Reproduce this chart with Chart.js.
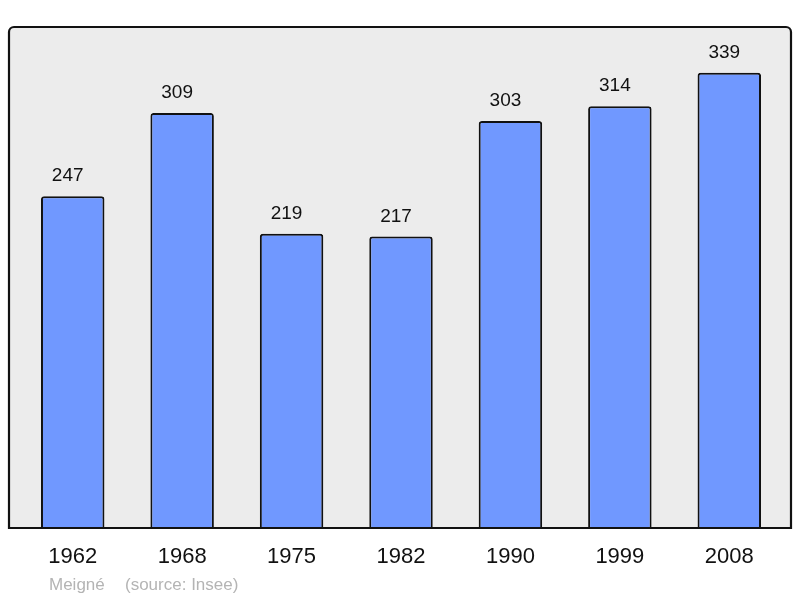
<!DOCTYPE html>
<html>
<head>
<meta charset="utf-8">
<script src="https://cdn.jsdelivr.net/npm/chart.js@4/dist/chart.umd.min.js"></script>
<style>
  html, body { margin: 0; padding: 0; background: #fff; }
  #wrap { width: 800px; height: 598px; }
</style>
</head>
<body>
<div id="wrap"><canvas id="popChart"></canvas></div>
<script>
const years = ['1962', '1968', '1975', '1982', '1990', '1999', '2008'];
const population = [247, 309, 219, 217, 303, 314, 339];
const placeName = 'Meigné';
const sourceText = '(source: Insee)';

// grey box with border + labels
const frame = {
    id: 'frame',
    beforeDraw(chart) {
        const c = chart.ctx;
        const a = chart.chartArea;
        c.save();
        c.beginPath();
        c.roundRect(9, 27, 782, a.bottom - 27, [5, 5, 0, 0]);
        c.fillStyle = '#ececec';
        c.fill();
        c.restore();
    },
    afterDatasetsDraw(chart) {
        const c = chart.ctx;
        const a = chart.chartArea;
        const meta = chart.getDatasetMeta(0);
        const xs = chart.scales.x;
        c.save();
        c.beginPath();
        c.roundRect(9, 27, 782, a.bottom - 27, [5, 5, 0, 0]);
        c.lineWidth = 2.2;
        c.strokeStyle = '#111';
        c.stroke();
        c.fillStyle = '#111';
        c.textAlign = 'center';
        c.font = '19px "Liberation Sans", Arial, sans-serif';
        c.textBaseline = 'alphabetic';
        meta.data.forEach((bar, i) => {
            c.fillText(String(population[i]), bar.x - 5, bar.y - 15);
        });
        c.font = '22px "Liberation Sans", Arial, sans-serif';
        c.textBaseline = 'middle';
        years.forEach((y, i) => {
            c.fillText(y, xs.getPixelForValue(i), 557);
        });
        c.fillStyle = '#b4b4b4';
        c.font = '17px "Liberation Sans", Arial, sans-serif';
        c.textAlign = 'left';
        c.fillText(placeName, 49, 585);
        c.fillText(sourceText, 125, 585);
        c.restore();
    }
};

new Chart(document.getElementById('popChart'), {
    type: 'bar',
    data: {
        labels: years,
        datasets: [{
            data: population,
            backgroundColor: '#7098ff',
            borderColor: '#111',
            borderWidth: 2,
            borderSkipped: 'bottom',
            borderRadius: 3,
            barPercentage: 0.58,
            categoryPercentage: 1
        }]
    },
    options: {
        responsive: true,
        maintainAspectRatio: false,
        animation: false,
        layout: { padding: { left: 18, right: 16, top: 27, bottom: 70 } },
        plugins: {
            legend: { display: false },
            tooltip: { enabled: false }
        },
        scales: {
            x: { display: false },
            y: { display: false, min: 0, max: 373 }
        }
    },
    plugins: [frame]
});
</script>
</body>
</html>
